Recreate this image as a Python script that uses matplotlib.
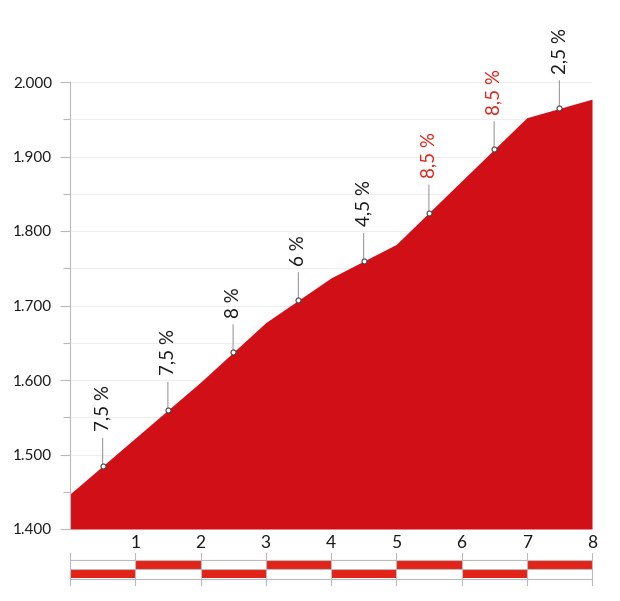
import numpy as np
import matplotlib
matplotlib.use('Agg')
import matplotlib.pyplot as plt

# ---------------------------------
# Datos del perfil
# ---------------------------------
km = [0, 1, 2, 3, 4, 5, 6, 7, 8]
altitud = [1447, 1522, 1597, 1677, 1737, 1782, 1867, 1952, 1977]

# pendiente de cada kilómetro (texto)
pendientes = ['7,5 %', '7,5 %', '8 %', '6 %', '4,5 %', '8,5 %', '8,5 %', '2,5 %']
rojas = [False, False, False, False, False, True, True, False]

y_ticks = [1400, 1500, 1600, 1700, 1800, 1900, 2000]
y_labels = ['1.400', '1.500', '1.600', '1.700', '1.800', '1.900', '2.000']
x_ticks = [1, 2, 3, 4, 5, 6, 7, 8]

plt.rcParams['font.family'] = ['Lato', 'DejaVu Sans']

W, H = 620, 601
fig = plt.figure(figsize=(W / 100, H / 100), dpi=100)

# ---------------------------------
# Perfil
# ---------------------------------
ax = fig.add_axes([70 / W, (H - 529) / H, 522 / W, 447 / H])
ax.set_xlim(0, 8)
ax.set_ylim(1400, 2000)

ax.fill_between(km, altitud, 1400, color='#d10f17', lw=0, zorder=2)

# grilla
for y in np.arange(1400, 2001, 50):
    ax.axhline(y, color='#eeeeee', lw=0.8, zorder=0)

# marcadores y etiquetas en la mitad de cada km
for i, texto in enumerate(pendientes):
    xm = km[i] + 0.5
    ym = (altitud[i] + altitud[i + 1]) / 2
    ax.annotate(
        texto, xy=(xm, ym), xytext=(0, 25), textcoords='offset points',
        rotation=90, ha='center', va='bottom', fontsize=13.5,
        color='#e2231a' if rojas[i] else '#1a1a1a',
        arrowprops=dict(arrowstyle='-', color='#999999', lw=0.8,
                        shrinkA=3, shrinkB=0),
        zorder=4,
    )
    ax.plot(xm, ym, 'o', ms=3.6, mfc='white', mec='#444444', mew=0.8, zorder=5)

# ejes
for s in ['top', 'right', 'bottom']:
    ax.spines[s].set_visible(False)
ax.spines['left'].set_color('#bbbbbb')
ax.spines['left'].set_linewidth(0.8)

ax.set_yticks(y_ticks)
ax.set_yticklabels(y_labels)
ax.set_yticks(np.arange(1450, 2000, 100), minor=True)
ax.tick_params(axis='y', which='major', length=7, width=0.8, color='#bbbbbb',
               labelsize=11, pad=6, labelcolor='#1a1a1a')
ax.tick_params(axis='y', which='minor', length=5, width=0.8, color='#bbbbbb')

ax.set_xticks(x_ticks)
ax.set_xticklabels([str(k) for k in x_ticks])
ax.tick_params(axis='x', length=0, labelsize=12.5, pad=4, labelcolor='#1a1a1a')

# ---------------------------------
# Barra kilométrica
# ---------------------------------
bx = fig.add_axes([70 / W, (H - 585) / H, 522 / W, 32 / H])
bx.set_xlim(0, 8)
bx.set_ylim(32, 0)
bx.axis('off')

for k in range(8):
    if k % 2 == 0:
        bx.fill_between([k, k + 1], 16, 25, color='#e2231a', lw=0)
    else:
        bx.fill_between([k, k + 1], 7, 16, color='#e2231a', lw=0)

for y in [6.5, 16, 25.5]:
    bx.plot([0, 8], [y, y], color='#bbbbbb', lw=0.8)
for k in km:
    bx.plot([k, k], [0, 32], color='#bbbbbb', lw=0.8, clip_on=False)

fig.savefig('out.png', dpi=100)
